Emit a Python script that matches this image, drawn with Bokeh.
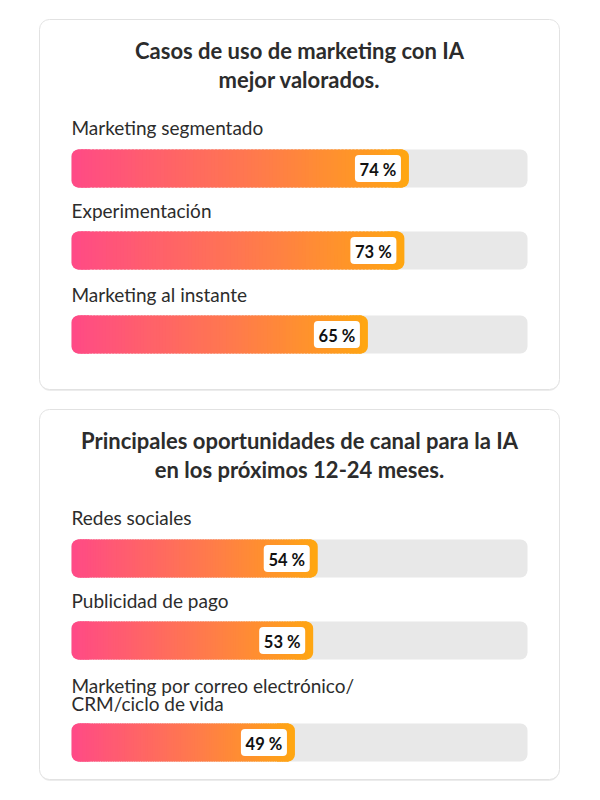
from bokeh.models import Range1d
from bokeh.plotting import figure
from bokeh.core.properties import value
from bokeh.embed import file_html
from bokeh.resources import INLINE


# data
titles_1 = ["Casos de uso de marketing con IA", "mejor valorados."]
cases_1 = ["Marketing segmentado", "Experimentación", "Marketing al instante"]
values_1 = [74, 73, 65]

titles_2 = ["Principales oportunidades de canal para la IA", "en los próximos 12-24 meses."]
cases_2 = ["Redes sociales", "Publicidad de pago",
           "Marketing por correo electrónico/\nCRM/ciclo de vida"]
values_2 = [54, 53, 49]

# layout (y in page pixels, x in percent of the track)
PX = 4.56            # pixels per percent
X0 = 72              # page x of 0 %
W, H = 584, 784
ORIGIN = 1           # where the figure actually lands on the page
FONT = "Lato"

p = figure(width=W, height=H, output_backend="svg", toolbar_location=None,
           x_range=Range1d((ORIGIN - X0) / PX, (ORIGIN + W - X0) / PX),
           y_range=Range1d(ORIGIN + H, ORIGIN), tools="")
p.axis.visible = False
p.grid.visible = False
p.outline_line_color = None
p.min_border = 0
p.background_fill_color = "white"
p.border_fill_color = "white"

card_left = (40 - X0) / PX
card_right = (560 - X0) / PX


def lerp(c1, c2, t):
    return "#%02x%02x%02x" % tuple(int(round(a + (b - a) * t)) for a, b in zip(c1, c2))


PINK = (255, 74, 134)
MID = (255, 122, 76)
ORANGE = (255, 166, 18)


def grad(t):
    if t < 0.55:
        return lerp(PINK, MID, t / 0.55)
    return lerp(MID, ORANGE, (t - 0.55) / 0.45)


def card(top, bottom, titles, cases, values, bar_ys, label_ys):
    # card background with faint shadow
    p.quad(left=card_left, right=card_right, top=top + 1.5, bottom=bottom + 1.5,
           fill_color="#ececec", line_color=None, border_radius=11)
    p.quad(left=card_left, right=card_right, top=top, bottom=bottom,
           fill_color="white", line_color="#e2e2e2", line_width=1, border_radius=10)

    # title
    for i, t in enumerate(titles):
        p.text(x=[50], y=[top + 31 + i * 29], text=[t], text_font=value(FONT),
               text_font_style="bold", text_font_size="22px", text_color="#2c2c2c",
               text_align="center", text_baseline="alphabetic")

    r = 6 / PX
    for case, v, by, ly in zip(cases, values, bar_ys, label_ys):
        # label
        lines = case.split("\n")
        for j, line in enumerate(lines):
            p.text(x=[0], y=[ly - 7 - (len(lines) - 1 - j) * 18.5], text=[line],
                   text_font=value(FONT), text_font_size="19px", text_color="#2c2c2c",
                   text_align="left", text_baseline="alphabetic")
        # track
        p.hbar(y=[by], left=[0], right=[100], height=38, fill_color="#e8e8e8",
               line_color=None, border_radius=7)
        # gradient bar: caps with rounded corners plus thin slices
        p.hbar(y=[by], left=[0], right=[3 * r], height=38, fill_color=grad(0),
               line_color=None, border_radius=(7, 0, 0, 7))
        p.hbar(y=[by], left=[v - 3 * r], right=[v], height=38, fill_color=grad(1),
               line_color=None, border_radius=(0, 7, 7, 0))
        n = 90
        lo, hi = r, v - r
        step = (hi - lo) / n
        lefts = [lo + k * step for k in range(n)]
        rights = [lo + (k + 1) * step + step * 0.6 for k in range(n)]
        rights[-1] = hi
        colors = [grad((lo + (k + 0.5) * step) / v) for k in range(n)]
        p.hbar(y=[by] * n, left=lefts, right=rights, height=38, fill_color=colors,
               line_color=None)
        # value box
        cx = v - 31 / PX
        p.rect(x=[cx], y=[by], width=46, height=27, width_units="screen",
               height_units="screen", fill_color="white", line_color=None,
               border_radius=4)
        p.text(x=[cx], y=[by + 1], text=["%d %%" % v], text_font=value(FONT),
               text_font_style="bold", text_font_size="16.5px", text_color="#111111",
               text_align="center", text_baseline="middle")


card(20, 390, titles_1, cases_1, values_1, [169, 251, 335], [135, 218, 302])
card(410, 780, titles_2, cases_2, values_2, [559, 641, 743], [525, 608, 711])

open("out.html", "w").write(file_html(p, INLINE))
